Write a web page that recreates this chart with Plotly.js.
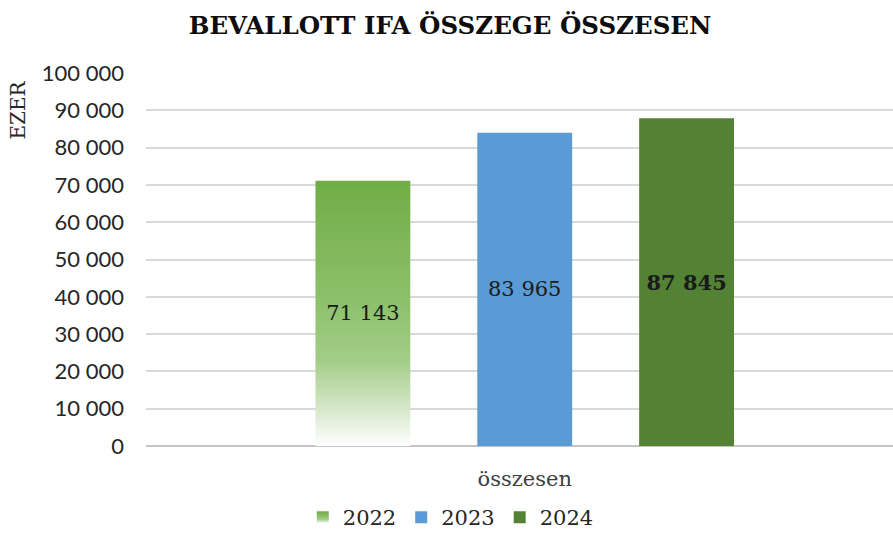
<!DOCTYPE html>
<html><head><meta charset="utf-8">
<script src="https://cdn.plot.ly/plotly-3.0.1.min.js"></script>
<style>html,body{margin:0;padding:0;background:#fff}#chart{width:893px;height:538px}</style>
</head><body><div id="chart"></div>
<script>
const category = ["összesen"];
const years = ["2022", "2023", "2024"];
const values2022 = [71143];
const values2023 = [83965];
const values2024 = [87845];
const labels2022 = ["71 143"];
const labels2023 = ["83 965"];
const labels2024 = ["<b>87 845</b>"];
const tickVals = [0,10000,20000,30000,40000,50000,60000,70000,80000,90000,100000];
const tickText = ["0","10 000","20 000","30 000","40 000","50 000","60 000","70 000","80 000","90 000","100 000"];

const serif = "DejaVu Serif";
const sans = "Lato";
function mk(name, y, txt, color){
  return {type:"bar", name:name, x:category, y:y, text:txt, texttemplate:"%{text}",
    textposition:"inside", insidetextanchor:"middle", textangle:0,
    textfont:{family:serif, size:21, color:"#1a1a1a"},
    marker:{color:color, line:{width:0}}, hoverinfo:"skip"};
}
const data = [
  mk(years[0], values2022, labels2022, "#70AD47"),
  mk(years[1], values2023, labels2023, "#5B9BD5"),
  mk(years[2], values2024, labels2024, "#548235")
];
const layout = {
  width:893, height:538, paper_bgcolor:"#fff", plot_bgcolor:"#fff",
  margin:{l:146, r:0, t:73, b:92, autoexpand:false},
  title:{text:"<b>BEVALLOTT IFA ÖSSZEGE ÖSSZESEN</b>", x:0.504, xanchor:"center", y:0.953, yanchor:"middle",
    font:{family:serif, size:24.5, color:"#0d0d0d"}},
  barmode:"group", bargap:0.35, bargroupgap:0.414,
  xaxis:{type:"category", range:[-0.507,0.493], showgrid:false, zeroline:false, showline:false,
    ticks:"", tickfont:{family:serif, size:21, color:"#404040"}, ticklabelstandoff:18},
  yaxis:{range:[0,100000], tickvals:tickVals, ticktext:tickText, showgrid:true, gridcolor:"#d9d9d9", gridwidth:2,
    zeroline:true, zerolinecolor:"#c4c4c4", zerolinewidth:2, showline:false,
    tickfont:{family:sans, size:22, color:"#262626"}, ticks:"", ticklabelstandoff:21},
  showlegend:true,
  legend:{orientation:"h", x:0.408, xanchor:"center", y:0.0, yref:"container", yanchor:"bottom",
    font:{family:serif, size:21, color:"#262626"}, itemwidth:30, traceorder:"normal"},
  annotations:[{text:"EZER", xref:"paper", yref:"paper", x:-0.171, y:0.9, xanchor:"center", yanchor:"middle",
    textangle:-90, showarrow:false, font:{family:serif, size:20, color:"#262626"}}]
};
Plotly.newPlot("chart", data, layout, {staticPlot:true}).then(function(gd){
  const svg = gd.querySelector("svg.main-svg");
  const ns = "http://www.w3.org/2000/svg";
  let defs = svg.querySelector("defs");
  const lg = document.createElementNS(ns, "linearGradient");
  lg.setAttribute("id","grad2022"); lg.setAttribute("x1","0"); lg.setAttribute("y1","0");
  lg.setAttribute("x2","0"); lg.setAttribute("y2","1");
  [["0","#70AD47"],["0.45","#8CC06A"],["0.68","#A3CD88"],["0.85","#D3E6C6"],["1","#FFFFFF"]].forEach(function(s){
    const st = document.createElementNS(ns,"stop"); st.setAttribute("offset",s[0]); st.setAttribute("stop-color",s[1]); lg.appendChild(st);
  });
  defs.appendChild(lg);
  const bars = gd.querySelectorAll(".barlayer .trace");
  if (bars[0]) bars[0].querySelectorAll("path").forEach(function(p){ p.style.fill = "url(#grad2022)"; });
  const leg = gd.querySelectorAll(".legend .traces");
  if (leg[0]) leg[0].querySelectorAll("path").forEach(function(p){ p.style.fill = "url(#grad2022)"; });
});
</script></body></html>
